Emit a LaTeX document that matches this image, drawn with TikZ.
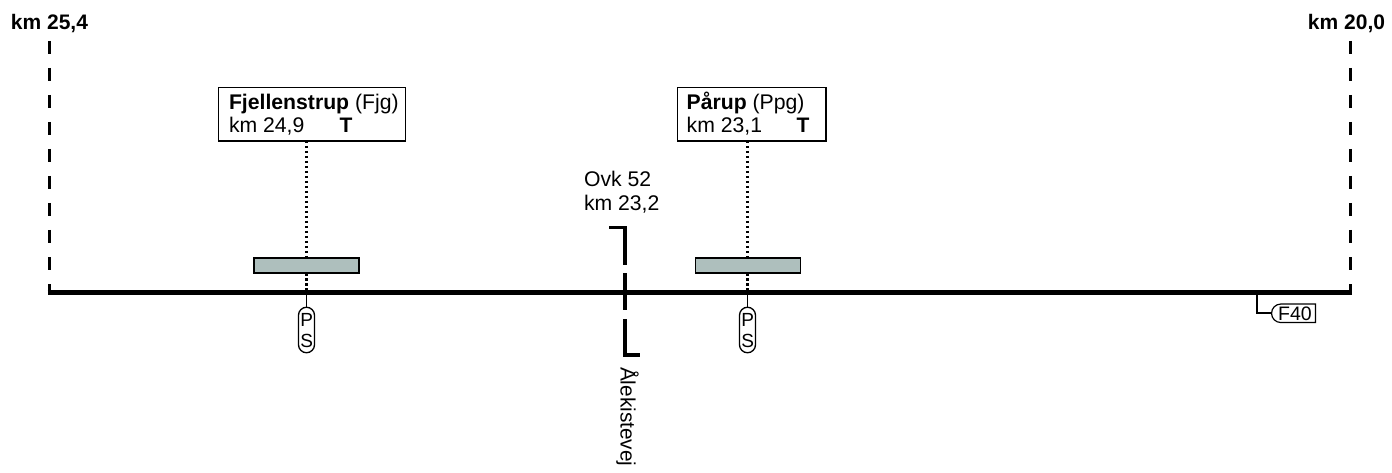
\documentclass[tikz,border=0pt]{standalone}
\usepackage{fontspec}
\setmainfont{Liberation Sans}
\usetikzlibrary{shapes.misc}
\definecolor{platform}{HTML}{AEBFBD}
\tikzset{
  x=1pt,y=-1pt,
  txt/.style={font=\fontsize{21.2}{24}\selectfont,inner sep=0pt,outer sep=0pt},
  kmlabel/.style={txt,font=\fontsize{21}{24}\selectfont\bfseries,anchor=base},
  limit/.style={line width=3pt,dash pattern=on 13pt off 14pt},
  track/.style={line width=5pt},
  station/.style={draw=black,line width=1.4pt,fill=white,minimum height=53.5pt,inner sep=0pt,outer sep=0pt},
  stationlabel/.style={txt,anchor=base west},
  platformbox/.style={draw=black,line width=1.8pt,fill=platform,minimum width=105pt,minimum height=15pt,inner sep=0pt,outer sep=0pt},
  pill/.style={draw=black,line width=1.3pt,fill=white,rounded corners=8pt,minimum width=16pt,minimum height=45.5pt,inner sep=0pt,outer sep=0pt},
  pslabel/.style={txt,font=\fontsize{19}{21}\selectfont,anchor=base},
  dotline/.style={line width=2.4pt,dash pattern=on 2.5pt off 2.5pt},
  stub/.style={line width=1.9pt},
  overpass/.style={line width=3.4pt,line cap=butt,line join=miter},
  tag/.style={draw=black,line width=1.2pt,fill=white,rounded rectangle,rounded rectangle east arc=none,minimum width=44pt,minimum height=18.5pt,inner sep=0pt,outer sep=0pt,font=\fontsize{19.5}{21}\selectfont,text height=13.5pt,text depth=0pt},
}
\begin{document}
\begin{tikzpicture}
\useasboundingbox (0,0) rectangle (1392,473);
% limits
\node[kmlabel] (kmL) at (49.5,30) {km 25,4};
\node[kmlabel] (kmR) at (1346.5,30) {km 20,0};
\coordinate (tL) at (49,41);
\coordinate (tR) at (1350,41);
\coordinate (bL) at (49,292);
\coordinate (bR) at (1350,292);
\draw[limit] (tL) -- (bL);
\draw[limit] (tR) -- (bR);
% stations
\coordinate (a1) at (306.5,292);
\coordinate (a2) at (747.5,292);
\node[station,minimum width=187pt] (s1) at (312,114.2) {};
\node[station,minimum width=148.7pt] (s2) at (751.7,114.2) {};
\node[platformbox] (p1) at (306.5,265.7) {};
\node[platformbox] (p2) at (748,265.7) {};
\draw[dotline] (s1.south -| a1) -- (p1.north -| a1);
\draw[dotline] (p1.south -| a1) -- (a1);
\draw[dotline] (s2.south -| a2) -- (p2.north -| a2);
\draw[dotline] (p2.south -| a2) -- (a2);
\node[stationlabel] (n1a) at (229,109.3) {\textbf{Fjellenstrup} (Fjg)};
\node[stationlabel] (n1b) at (229,132.3) {km 24,9};
\node[kmlabel] (n1c) at (346,132.3) {T};
\node[stationlabel] (n2a) at (686.7,109.3) {\textbf{Pårup} (Ppg)};
\node[stationlabel] (n2b) at (686.7,132.3) {km 23,1};
\node[kmlabel] (n2c) at (803,132.3) {T};
% track
\draw[track,line cap=butt] ([xshift=-1.5pt]bL) -- ([xshift=1.5pt]bR);
% PS pills
\node[pill] (ps1) at (306.5,330) {};
\node[pill] (ps2) at (747.5,330) {};
\node[pslabel] (ps1p) at (306.8,326) {P};
\node[pslabel] (ps1s) at (306.8,347) {S};
\node[pslabel] (ps2p) at (747.8,326) {P};
\node[pslabel] (ps2s) at (747.8,347) {S};
\draw[stub] (a1) -- (ps1.north);
\draw[stub] (a2) -- (ps2.north);
% overpass
\node[txt,anchor=base west] (o1) at (584,187) {Ovk 52};
\node[txt,anchor=base west] (o2) at (584,210.5) {km 23,2};
\coordinate (o3) at (609,227.5);
\coordinate (o4) at (625,227.5);
\coordinate (o5) at (625,355);
\coordinate (o6) at (640,355);
\draw[overpass,dash pattern=on 53.5pt off 8pt on 37pt off 9pt on 200pt] (o3) -- (o4) -- (o5) -- (o6);
\node[txt,font=\fontsize{20.8}{24}\selectfont,rotate=-90,anchor=base west] (road) at (620.5,367) {Ålekistevej};
% F40
\coordinate (f0) at (1257,292);
\node[tag] (f40) at (1295,313.3) {F40};
\draw[stub] (f0) |- (f40.west);
\end{tikzpicture}
\end{document}
